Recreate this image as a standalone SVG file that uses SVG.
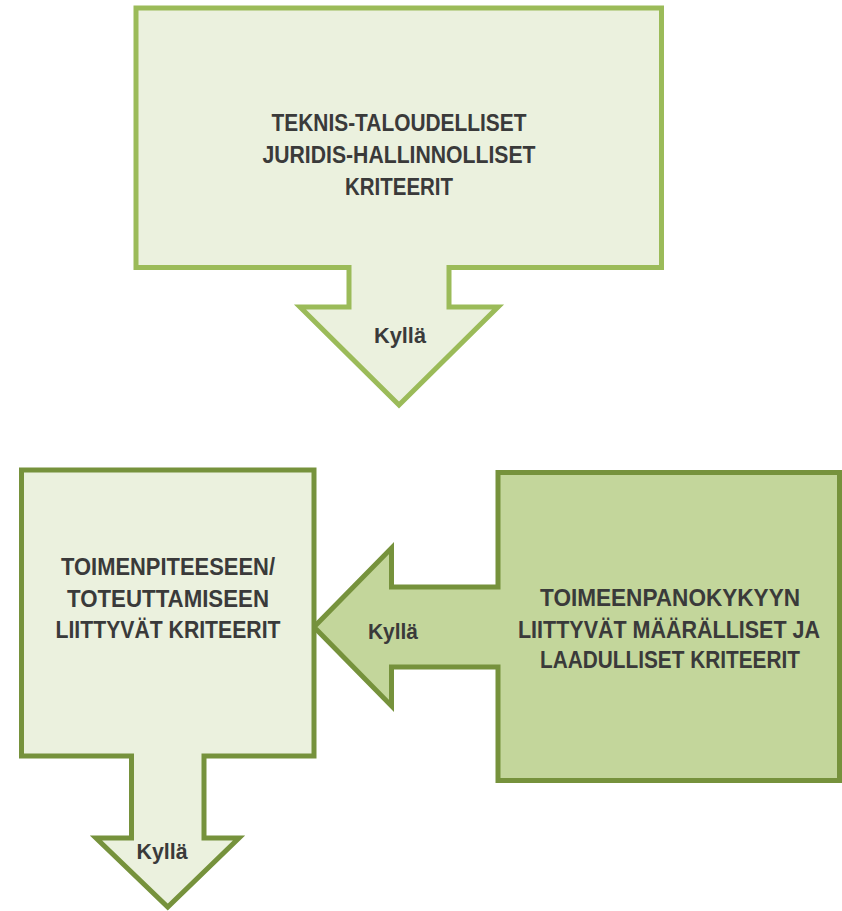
<svg xmlns="http://www.w3.org/2000/svg" width="842" height="911" viewBox="0 0 842 911">
<style>
.light{fill:#EBF1DE;stroke:#9BBB59;stroke-width:5}
.lightdark{fill:#EBF1DE;stroke:#76923C;stroke-width:5}
.mid{fill:#C3D69B;stroke:#76923C;stroke-width:5}
text{font-family:"Liberation Sans",Arial,sans-serif;font-weight:bold;fill:#3A3A3A;text-anchor:middle}
.t{font-size:23px}
.k{font-size:21.5px}
</style>
<rect width="842" height="911" fill="#FFFFFF"/>
<g id="connectors"></g>
<g id="node-top">
<path class="light" d="M136,8 H661.5 V267.5 H449 V307 H498 L399,405 L300,307 H349 V267.5 H136 Z"/>
<text class="t" x="399" y="131" textLength="255" lengthAdjust="spacingAndGlyphs">TEKNIS-TALOUDELLISET</text>
<text class="t" x="399" y="163" textLength="273" lengthAdjust="spacingAndGlyphs">JURIDIS-HALLINNOLLISET</text>
<text class="t" x="399" y="195" textLength="108" lengthAdjust="spacingAndGlyphs">KRITEERIT</text>
<text class="k" x="400" y="343" textLength="52" lengthAdjust="spacingAndGlyphs">Kyllä</text>
</g>
<g id="node-right">
<path class="mid" d="M498,472.5 H839.5 V780.5 H498 V667 H391.5 V706 L314,627 L391.5,548 V587 H498 Z"/>
<text class="t" x="670" y="606" textLength="260" lengthAdjust="spacingAndGlyphs">TOIMEENPANOKYKYYN</text>
<text class="t" x="669" y="638" textLength="302" lengthAdjust="spacingAndGlyphs">LIITTYVÄT MÄÄRÄLLISET JA</text>
<text class="t" x="670" y="668" textLength="260" lengthAdjust="spacingAndGlyphs">LAADULLISET KRITEERIT</text>
<text class="k" x="393" y="639" textLength="50" lengthAdjust="spacingAndGlyphs">Kyllä</text>
</g>
<g id="node-left">
<path class="lightdark" d="M21.5,470 H314 V756 H204 V838 H239 L167.75,907 L96,838 H131.5 V756 H21.5 Z"/>
<text class="t" x="168" y="575" textLength="214" lengthAdjust="spacingAndGlyphs">TOIMENPITEESEEN/</text>
<text class="t" x="168" y="607" textLength="202" lengthAdjust="spacingAndGlyphs">TOTEUTTAMISEEN</text>
<text class="t" x="168" y="638" textLength="225" lengthAdjust="spacingAndGlyphs">LIITTYVÄT KRITEERIT</text>
<text class="k" x="162" y="859" textLength="51" lengthAdjust="spacingAndGlyphs">Kyllä</text>
</g>
</svg>
